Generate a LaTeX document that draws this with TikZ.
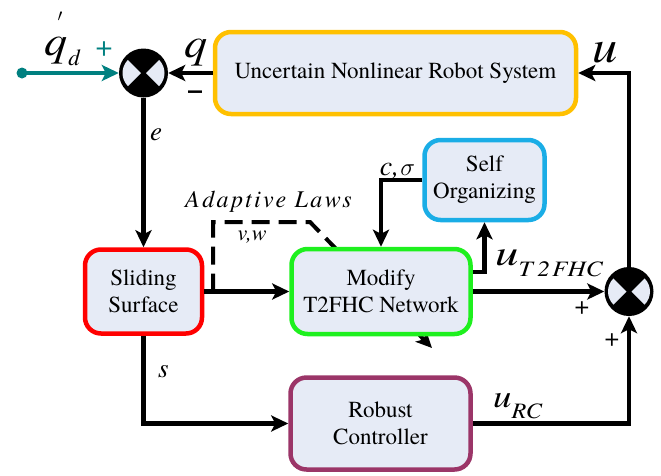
\documentclass[tikz,border=0pt]{standalone}
\usepackage{fontspec}
\setmainfont{TeX Gyre Termes}
\usetikzlibrary{arrows.meta,calc}
\definecolor{boxfill}{HTML}{E6EBF6}
\definecolor{corange}{HTML}{FFC000}
\definecolor{cred}{HTML}{FF0000}
\definecolor{cgreen}{HTML}{1EF01E}
\definecolor{cblue}{HTML}{1AADE6}
\definecolor{cpurple}{HTML}{9B3568}
\definecolor{cteal}{HTML}{008080}
\begin{document}
\begin{tikzpicture}[x=1pt,y=-1pt,
  blk/.style={draw, rounded corners=16pt, fill=boxfill, line width=4.5pt, align=center,
    font=\fontsize{23}{27}\selectfont, inner sep=0pt},
  conn/.style={line width=4.2pt, -{Stealth[length=17pt,width=16pt,inset=4pt]}},
  sumj/.style={circle, fill=black, minimum size=49pt, inner sep=0pt,
    path picture={
      \fill[boxfill] ([xshift=-2.5pt]path picture bounding box.center) -- ++(135:18.5pt)
        arc[start angle=135,end angle=225,radius=18.5pt] -- cycle;
      \fill[boxfill] ([xshift=2.5pt]path picture bounding box.center) -- ++(45:18.5pt)
        arc[start angle=45,end angle=-45,radius=18.5pt] -- cycle;
    }},
  lab/.style={inner sep=0pt, anchor=base west},
  pl/.style={inner sep=0pt, font=\fontsize{26}{26}\selectfont}
]
\useasboundingbox (0,0) rectangle (661,475);

% dashed adaptive-law arrow (drawn first, partly hidden by the network box)
\coordinate (dstart) at (213,291.5);
\coordinate (dc1) at (213,222);
\coordinate (dc2) at (310,222);
\coordinate (dend) at (432,348);
\draw[line width=4pt, dash pattern=on 18pt off 9pt, -{Stealth[length=16pt,width=15pt,inset=4pt]}]
  (dstart) -- (dc1) -- (dc2) -- (dend);

% blocks
\node[blk, draw=corange, minimum width=361pt, minimum height=82pt] (robot) at (395.5,73) {Uncertain Nonlinear Robot System};
\node[blk, draw=cred, minimum width=117pt, minimum height=84pt] (slide) at (143.5,291.5) {Sliding\\Surface};
\node[blk, draw=cgreen, minimum width=179pt, minimum height=85pt] (mod) at (381,291.5) {Modify\\T2FHC Network};
\node[blk, draw=cblue, minimum width=120pt, minimum height=80pt] (self) at (484.5,180) {Self\\Organizing};
\node[blk, draw=cpurple, minimum width=180pt, minimum height=92pt] (rob) at (380.5,423.5) {Robust\\Controller};
\node[sumj] (s1) at (143.5,73) {};
\node[sumj] (s2) at (629,291.5) {};

% connectors
\coordinate (qdin) at (22,73);
\fill[cteal] (qdin) circle (5.5pt);
\draw[conn, color=cteal] (qdin) -- (s1.west);
\draw[conn] (robot.west) -- (s1.east);
\draw[conn] (s1.south) -- (slide.north);
\draw[conn] (slide.east) -- (mod.west);
\draw[conn] (mod.east) -- (s2.west);
\draw[conn] (self.west) -| (mod.north);
\draw[conn] ([yshift=19.5pt]mod.east) -| (self.south);
\draw[conn] (rob.east) -| (s2.south);
\draw[conn] (s2.north) |- (robot.east);
\draw[conn] (slide.south) |- (rob.west);

% labels
\node[lab] (lqd) at (44,55) {\fontsize{42}{42}\selectfont\itshape\scalebox{1.1}[1]{q}\llap{\raisebox{34pt}{\fontsize{16}{16}\selectfont$\prime$}\kern5pt}\kern1pt\raisebox{-10pt}{\fontsize{23}{23}\selectfont d}};
\node[pl, text=cteal, font=\fontsize{30}{30}\selectfont] (lplus1) at (104,49) {+};
\node[lab] (lq) at (184,57) {\fontsize{42}{42}\selectfont\itshape\scalebox{1.1}[1]{q}};
\node[inner sep=0pt] (lminus) at (195,95) {\fontsize{28}{28}\selectfont\bfseries --};
\node[lab] (lu) at (592,62) {\fontsize{46}{46}\selectfont\itshape\scalebox{1.1}[1]{u}};
\node[lab] (le) at (150,140) {\fontsize{27}{27}\selectfont\itshape e};
\node[lab] (ls) at (158,377) {\fontsize{27}{27}\selectfont\itshape s};
\node[inner sep=0pt, anchor=base] (lal) at (268.5,207) {\fontsize{24}{24}\selectfont\itshape\addfontfeature{LetterSpace=10}Adaptive Laws};
\node[inner sep=0pt, anchor=base] (lvw) at (252,240) {\fontsize{22}{22}\selectfont\itshape v,w};
\node[inner sep=0pt, anchor=base] (lcs) at (397.5,175) {\fontsize{28}{28}\selectfont\itshape c,\kern1pt$\sigma$};
\node[lab] (lut) at (495,265) {\fontsize{36}{36}\selectfont\itshape\scalebox{1.3}[1]{u}\raisebox{-11pt}{\fontsize{22}{22}\selectfont\scalebox{1.15}[1]{T\kern4pt 2\kern2pt FHC}}};
\node[lab] (lurc) at (493,407) {\fontsize{32}{32}\selectfont\itshape\scalebox{1.15}[1]{u}\raisebox{-11pt}{\fontsize{22}{22}\selectfont\scalebox{1.1}[1]{RC}}};
\node[pl] (lplus2) at (582,308) {+};
\node[pl] (lplus3) at (612,340) {+};
\end{tikzpicture}
\end{document}
